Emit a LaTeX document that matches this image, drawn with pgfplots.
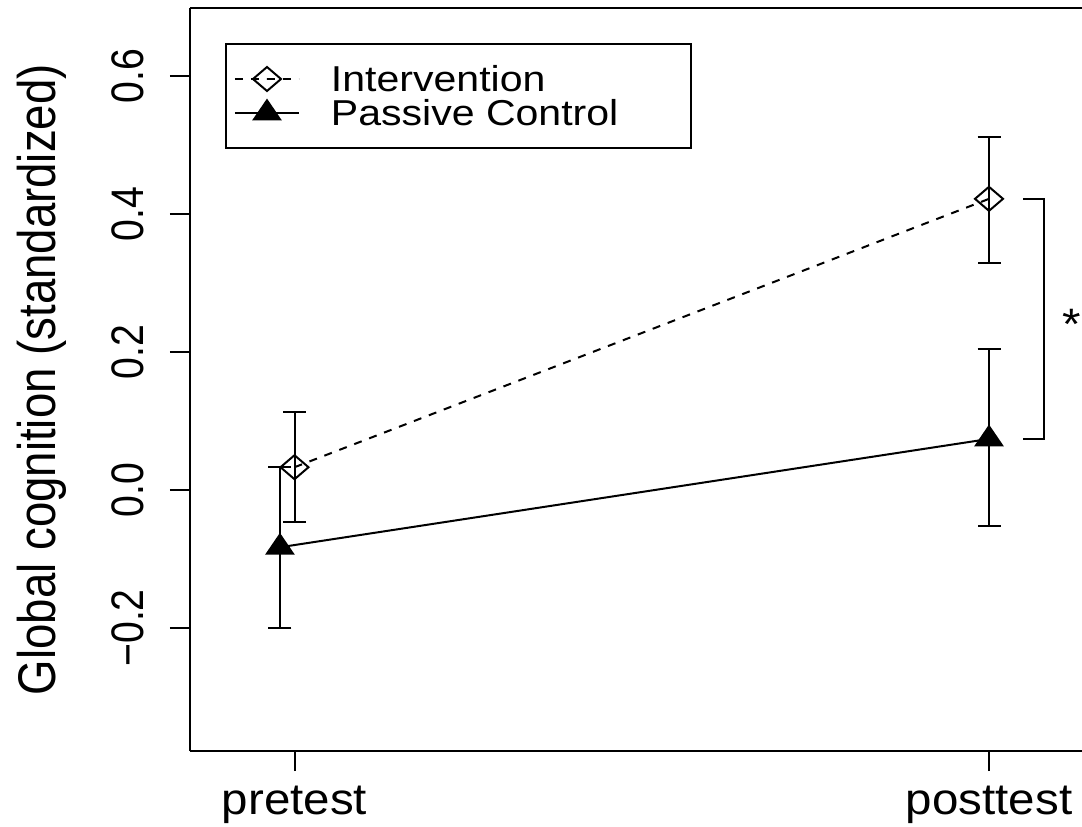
\documentclass[border=0pt]{standalone}
\usepackage{fontspec}
\setmainfont{Liberation Sans}
\newfontfamily\hfont{Liberation Sans}[FakeStretch=1.08]
\newfontfamily\lfont{Liberation Sans}[FakeStretch=1.14]
\newfontfamily\rfont{Liberation Sans}[FakeStretch=0.86]
\usepackage{pgfplots}
\usepackage{pgfplotstable}
\pgfplotsset{compat=1.18}

\pgfplotstableread{
x y ep em
1.0 0.033 0.080 0.080
2.0 0.422 0.090 0.093
}\interv
\pgfplotstableread{
x y ep em
0.979 -0.083 0.116 0.117
2.0 0.074 0.130 0.126
}\passive

\begin{document}
\begin{tikzpicture}
\begin{axis}[
  at={(0,0)}, anchor=south west,
  scale only axis, width=446pt, height=371.5pt,
  xmin=0.8495, xmax=2.1339, ymin=-0.3783, ymax=0.6986,
  axis y line*=left,
  xtick={1,2}, xticklabels={pretest,posttest},
  ytick={-0.2,0,0.2,0.4,0.6}, yticklabels={−0.2,0.0,0.2,0.4,0.6},
  tick align=outside, xtick pos=bottom, ytick pos=left,
  major tick length=10pt,
  tick style={line width=1pt, black},
  axis line style={line width=1.2pt},
  clip=false,
  xticklabel style={font=\hfont\fontsize{22}{26}\selectfont, anchor=north, inner sep=0pt, yshift=-7.5pt},
  yticklabel style={font=\rfont\fontsize{22.8}{26}\selectfont, xshift=-13pt, rotate=90, anchor=south, inner sep=0pt},
  legend style={at={(rel axis cs:0,1)}, anchor=north west, xshift=17.5pt, yshift=-17.5pt,
    draw=black, line width=1pt, font=\lfont\fontsize{18}{20}\selectfont,
    inner xsep=4pt, inner ysep=9pt, row sep=0pt,
    nodes={inner sep=0pt, text height=14.95pt, text depth=2.05pt},
    cells={anchor=west},
    /tikz/every odd column/.append style={column sep=15.5pt}},
  legend image code/.code={\draw[mark repeat=2, mark phase=2, #1] plot coordinates {(0pt,0pt) (16pt,0pt) (32pt,0pt)};},
]
\addplot[black, line width=1pt, dash pattern=on 4pt off 4pt,
  mark=diamond, mark size=6pt, mark options={solid, xscale=1.556, fill=none, line width=1pt},
  error bars/.cd, y dir=both, y explicit, error mark=-,
  error bar style={solid, line width=1pt},
  error mark options={rotate=90, solid, line width=1pt, mark size=5.75pt}]
  table[x=x, y=y, y error plus=ep, y error minus=em]{\interv};
\addlegendentry{Intervention}
\addplot[black, line width=1pt, solid,
  mark=triangle*, mark size=6.33pt, mark options={solid, xscale=1.18, fill=black},
  error bars/.cd, y dir=both, y explicit, error mark=-,
  error bar style={solid, line width=1pt},
  error mark options={rotate=90, solid, line width=1pt, mark size=5.75pt}]
  table[x=x, y=y, y error plus=ep, y error minus=em]{\passive};
\addlegendentry{Passive Control\hspace*{32.5pt}}
\addplot[black, line width=1pt, mark=none, forget plot] coordinates {(2.049,0.422) (2.079,0.422) (2.079,0.074) (2.049,0.074)};
\node[font=\hfont\fontsize{22}{26}\selectfont, inner sep=0pt, anchor=center, yshift=-2pt] at (axis cs:2.119,0.246) {*};
\node[font=\rfont\fontsize{26.5}{30}\selectfont, inner sep=0pt, anchor=center, rotate=90] at (axis cs:0.6364,0.160) {Global cognition (standardized)};
\end{axis}
\pgfresetboundingbox
\path[use as bounding box] (-95pt,-37.5pt) rectangle ++(541pt,413pt);
\end{tikzpicture}
\end{document}
